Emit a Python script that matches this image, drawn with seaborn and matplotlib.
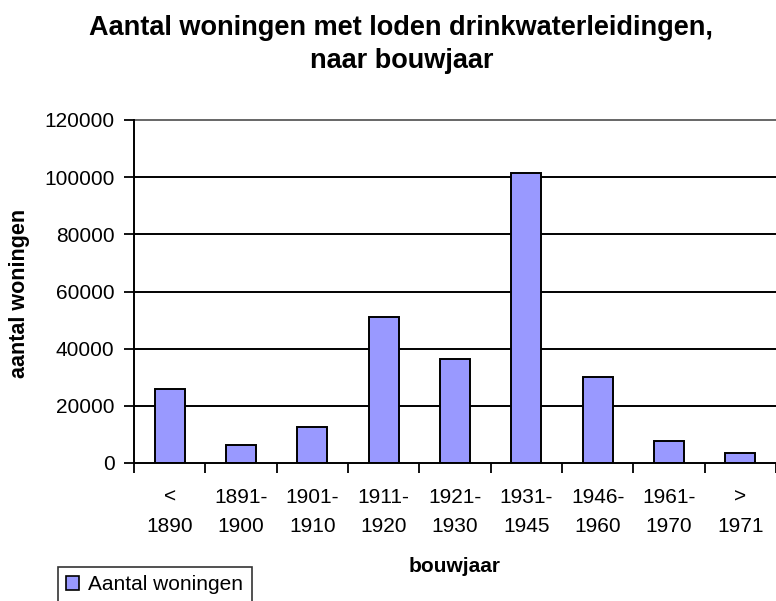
import numpy as np
import pandas as pd
import matplotlib
matplotlib.use("Agg")
import matplotlib.pyplot as plt
import seaborn as sns
from matplotlib.patches import Patch

# ── Data ─────────────────────────────────────────────
categories = ["<\n1890", "1891-\n1900", "1901-\n1910", "1911-\n1920", "1921-\n1930",
              "1931-\n1945", "1946-\n1960", "1961-\n1970", ">\n1971"]
woningen = [25900, 6300, 12700, 51000, 36300, 101500, 30100, 7700, 3500]
y_ticks = [0, 20000, 40000, 60000, 80000, 100000, 120000]

df = pd.DataFrame({"bouwjaar": categories, "woningen": woningen})

sns.set_style("white")
plt.rcParams['font.family'] = ['Liberation Sans', 'DejaVu Sans']
plt.rcParams['text.color'] = 'black'
plt.rcParams['xtick.color'] = 'black'
plt.rcParams['ytick.color'] = 'black'

W, H = 776, 601
fig = plt.figure(figsize=(W / 100, H / 100), dpi=100)
ax = fig.add_axes([134 / W, 1 - 463 / H, 1 - 134 / W, 343 / H])

sns.barplot(data=df, x="bouwjaar", y="woningen", ax=ax, color="#9999FF",
            edgecolor="black", linewidth=1.4, width=0.42, saturation=1)

ax.set_xlim(-0.5, 8.5)
ax.set_ylim(0, 120000)
ax.set_yticks(y_ticks)
ax.set_yticklabels([str(v) for v in y_ticks], fontsize=15)
for v in y_ticks[1:]:
    ax.axhline(v, color="#666666" if v == 120000 else "black", lw=1.4, zorder=0,
               clip_on=False)

# category boundaries as major ticks, labels on minor ticks
ax.set_xticks(np.arange(-0.5, 9, 1))
ax.set_xticklabels([])
ax.set_xticks(np.arange(9), minor=True)
ax.set_xticklabels(categories, minor=True, fontsize=15, linespacing=1.65)
ax.tick_params(axis="x", which="major", length=7, width=1.3, color="black", direction="out", bottom=True)
ax.tick_params(axis="x", which="minor", length=0, pad=18)
ax.tick_params(axis="y", length=7, width=1.3, color="black", direction="out", left=True, pad=7)

for s in ["top", "right"]:
    ax.spines[s].set_visible(False)
for s in ["left", "bottom"]:
    ax.spines[s].set_color("black")
    ax.spines[s].set_linewidth(1.4)

ax.set_xlabel("")
ax.set_ylabel("")

fig.text(401 / W, 1 - 35 / H, "Aantal woningen met loden drinkwaterleidingen,",
         ha="center", va="baseline", fontsize=19.5, fontweight="bold")
fig.text(402 / W, 1 - 68 / H, "naar bouwjaar",
         ha="center", va="baseline", fontsize=19.5, fontweight="bold")
fig.text(20 / W, 1 - 293 / H, "aantal woningen", rotation=90,
         ha="center", va="center", fontsize=15.5, fontweight="bold")
fig.text(455 / W, 1 - 567 / H, "bouwjaar",
         ha="center", va="center", fontsize=15, fontweight="bold")

handles = [Patch(facecolor="#9999FF", edgecolor="black", linewidth=1.2, label="Aantal woningen")]
leg = fig.legend(handles=handles, loc="upper left", bbox_to_anchor=(58 / W, 1 - 567 / H),
                 frameon=True, fancybox=False, fontsize=15, borderaxespad=0,
                 handlelength=0.6, handleheight=0.6, handletextpad=0.45, borderpad=0.4)
leg.get_frame().set_edgecolor("black")
leg.get_frame().set_linewidth(1.2)

fig.savefig("out.png", dpi=100)
